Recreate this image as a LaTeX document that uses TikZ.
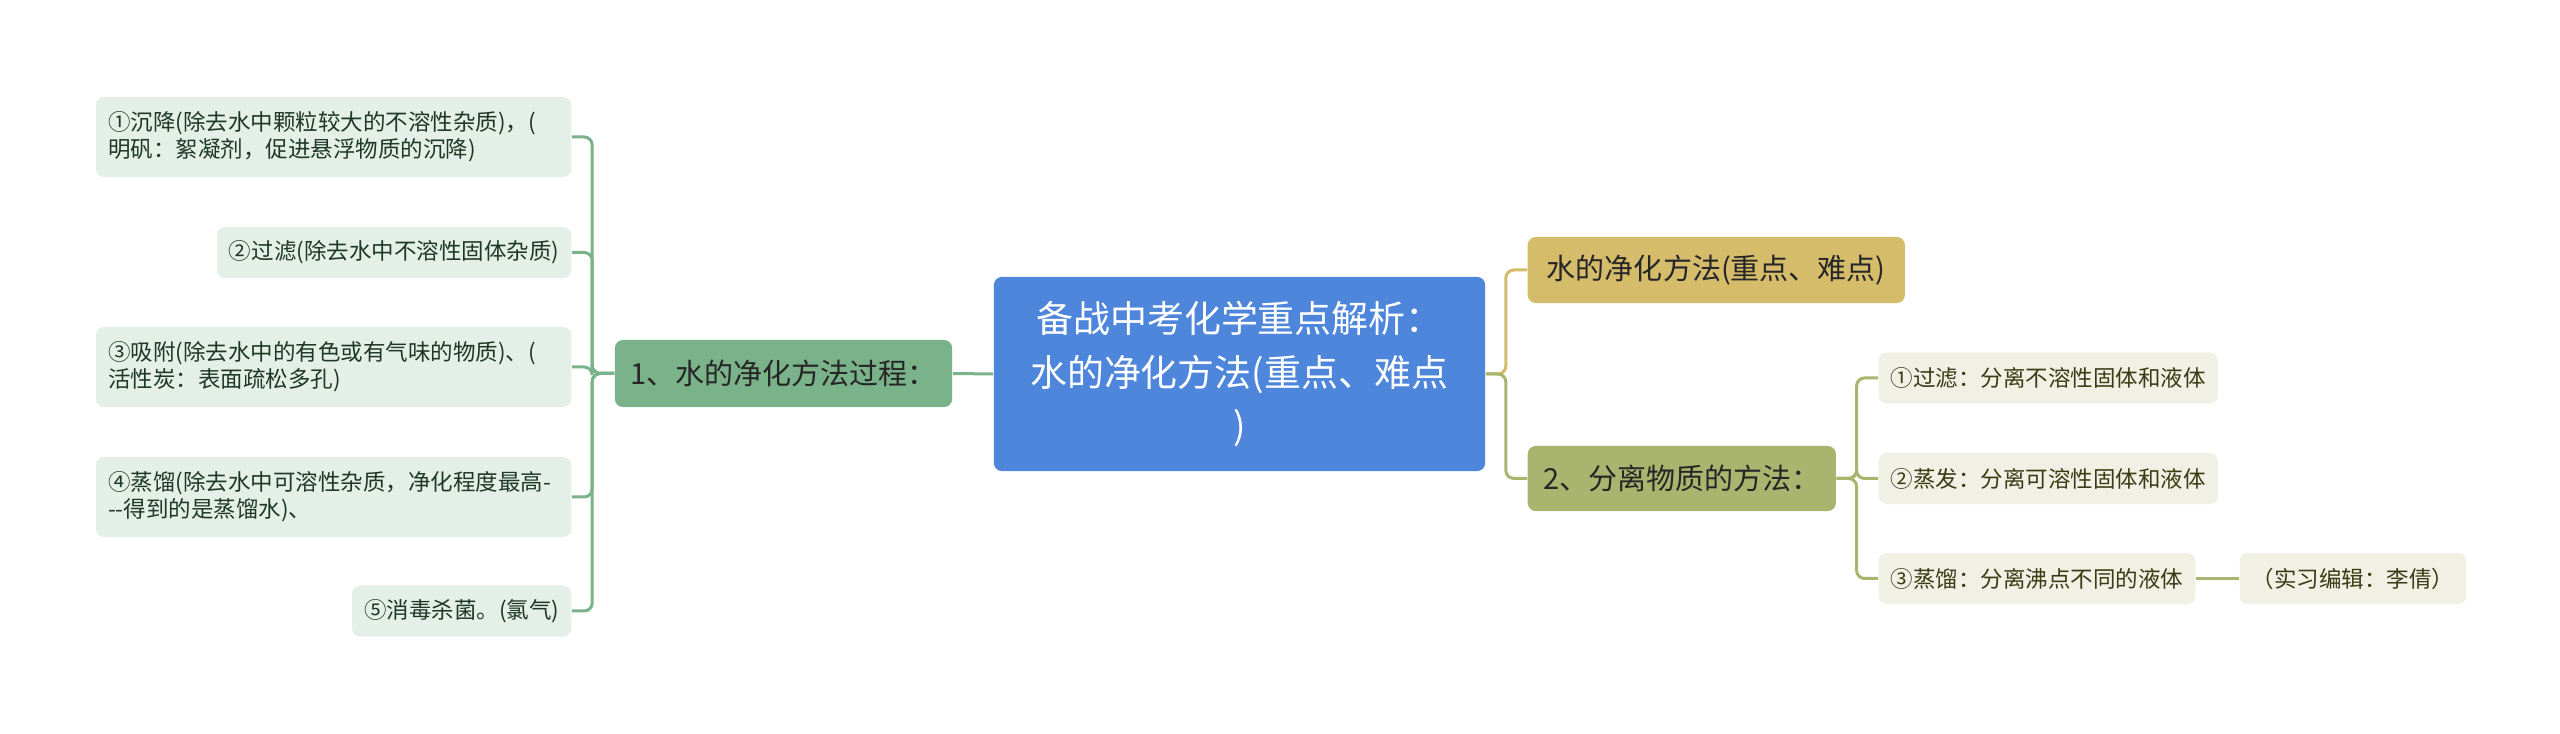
\documentclass[tikz,border=0pt]{standalone}
\usepackage{fontspec}
\setmainfont{Noto Sans CJK SC}
\usetikzlibrary{positioning}
\definecolor{rootblue}{RGB}{78,134,219}
\definecolor{lgreen}{RGB}{122,178,138}
\definecolor{lleaf}{RGB}{228,239,231}
\definecolor{ltext}{RGB}{30,56,38}
\definecolor{rgold}{RGB}{212,188,106}
\definecolor{rolive}{RGB}{169,181,110}
\definecolor{rleaf}{RGB}{240,240,228}
\definecolor{rtext}{RGB}{56,60,20}

\begin{document}
\begin{tikzpicture}[x=0.01cm,y=-0.01cm,
  box/.style={rounded corners=0.08cm,inner xsep=0.12cm,inner ysep=0pt},
  topic/.style={box,fill=#1,text=black!85,minimum height=0.66cm,font=\fontsize{8.25}{10}\selectfont},
  leaf/.style={box,fill=#1,minimum height=0.51cm,font=\fontsize{6.4}{7.7}\selectfont},
  link/.style={line width=0.03cm,rounded corners=0.08cm}]
\useasboundingbox (0,0) rectangle (2560,734);
% central topic
\node[box,fill=rootblue,text=white,minimum width=4.91cm,minimum height=1.94cm,align=center,
  font=\fontsize{10.5}{15.1}\selectfont] (root) at (1239.5,374) {备战中考化学重点解析：\\水的净化方法(重点、难点\\)};
% left branch
\node[topic=lgreen,minimum width=3.37cm,minimum height=0.67cm] (purify) at (783.5,373.5) {1、水的净化方法过程：};
\node[leaf=lleaf,text=ltext,anchor=east,text width=4.51cm,align=left,minimum height=0.8cm] (settle) at (572,137)
  {①沉降(除去水中颗粒较大的不溶性杂质)，(\\明矾：絮凝剂，促进悬浮物质的沉降)};
\node[leaf=lleaf,text=ltext,anchor=east] (filter) at (572,252.5) {②过滤(除去水中不溶性固体杂质)};
\node[leaf=lleaf,text=ltext,anchor=east,text width=4.51cm,align=left,minimum height=0.8cm] (adsorb) at (572,367)
  {③吸附(除去水中的有色或有气味的物质)、(\\活性炭：表面疏松多孔)};
\node[leaf=lleaf,text=ltext,anchor=east,text width=4.51cm,align=left,minimum height=0.8cm] (distil) at (572,497)
  {④蒸馏(除去水中可溶性杂质，净化程度最高-\\-{}-得到的是蒸馏水)、};
\node[leaf=lleaf,text=ltext,anchor=east] (disinfect) at (572,611) {⑤消毒杀菌。(氯气)};
\draw[link,lgreen] (root.west) -- (purify.east);
\foreach \n in {settle,filter,adsorb,distil,disinfect}
  \draw[link,lgreen] (purify.west) -- ++(-22,0) |- (\n.east);
% right branch
\node[topic=rgold,anchor=west,minimum width=3.77cm] (keypt) at (1527,270) {水的净化方法(重点、难点)};
\node[topic=rolive,anchor=west,minimum width=3.08cm,minimum height=0.65cm] (separate) at (1527,478.5) {2、分离物质的方法：};
\draw[link,rgold] (root.east) -- ++(20,0) |- (keypt.west);
\draw[link,rolive] (root.east) -- ++(20,0) |- (separate.west);
\node[leaf=rleaf,text=rtext,anchor=west,minimum width=3.39cm] (sfilter) at (1878,378) {①过滤：分离不溶性固体和液体};
\node[leaf=rleaf,text=rtext,anchor=west,minimum width=3.39cm] (evap) at (1878,478.5) {②蒸发：分离可溶性固体和液体};
\node[leaf=rleaf,text=rtext,anchor=west,minimum width=3.16cm] (sdistil) at (1878,578.5) {③蒸馏：分离沸点不同的液体};
\node[leaf=rleaf,text=rtext,right=0.43cm of sdistil,minimum width=2.26cm] (editor) {（实习编辑：李倩）};
\foreach \n in {sfilter,evap,sdistil}
  \draw[link,rolive] (separate.east) -- ++(20,0) |- (\n.west);
\draw[link,rolive] (sdistil.east) -- (editor.west);
\end{tikzpicture}
\end{document}
